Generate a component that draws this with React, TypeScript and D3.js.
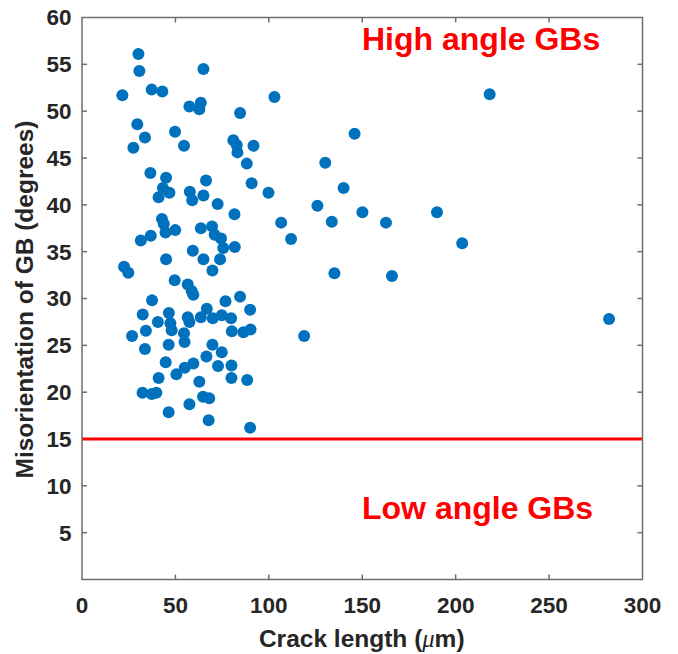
import React from "react";
import * as d3 from "d3";

const crackLength: number[] = [
  30.2, 30.7, 21.6, 37.3, 43.0, 65.0, 57.5, 63.6, 62.8, 84.6,
  29.6, 33.7, 27.5, 49.8, 54.6, 81.0, 82.8, 83.2, 91.8, 88.2,
  36.6, 45.0, 43.3, 46.8, 41.0, 66.4, 57.7, 59.0, 65.0, 72.6,
  81.6, 103.0, 90.8, 99.8, 145.9, 130.2, 140.0, 126.0, 150.1, 190.0,
  106.6, 133.7, 162.7, 111.9, 81.8, 203.5, 135.1, 165.9, 84.6, 90.0,
  79.8, 80.2, 86.4, 90.2, 118.9, 80.0, 80.0, 88.4, 90.0, 282.1,
  218.2, 22.5, 24.8, 31.5, 36.8, 42.8, 43.8, 44.7, 49.9, 45.0,
  49.6, 59.3, 63.6, 69.6, 71.0, 74.4, 75.6, 65.0, 73.9, 69.8,
  56.6, 58.7, 59.6, 37.5, 32.5, 40.6, 46.5, 47.3, 48.0, 34.2,
  26.8, 33.7, 46.4, 56.6, 57.5, 54.6, 54.9, 63.6, 66.8, 70.0,
  74.8, 76.8, 44.8, 69.8, 74.8, 66.6, 59.6, 55.0, 50.5, 72.8,
  41.0, 62.8, 32.4, 37.3, 39.8, 64.8, 68.1, 57.5, 46.4, 67.8,
];

const misorientation: number[] = [
  56.1, 54.3, 51.7, 52.3, 52.1, 54.5, 50.5, 50.9, 50.2, 49.8,
  48.6, 47.2, 46.1, 47.8, 46.3, 46.9, 46.4, 45.6, 46.3, 44.4,
  43.4, 42.9, 41.8, 41.3, 40.8, 42.6, 41.4, 40.5, 41.0, 40.1,
  39.0, 51.5, 42.3, 41.3, 47.6, 44.5, 41.8, 39.9, 39.2, 39.2,
  38.1, 38.2, 38.1, 36.35, 35.5, 35.9, 32.7, 32.4, 30.2, 28.8,
  27.9, 26.5, 26.4, 26.7, 26.0, 22.85, 21.5, 21.3, 16.2, 27.8,
  51.8, 33.4, 32.75, 36.2, 36.7, 38.5, 37.95, 37.05, 37.3, 34.2,
  31.95, 35.1, 37.5, 37.7, 36.8, 36.4, 35.4, 34.2, 34.2, 33.0,
  31.5, 30.8, 30.4, 29.8, 28.3, 27.5, 28.45, 27.35, 26.6, 26.55,
  26.0, 24.6, 25.05, 28.0, 27.5, 26.3, 25.35, 28.0, 28.9, 27.9,
  28.2, 29.7, 23.2, 25.05, 24.25, 23.8, 23.05, 22.6, 21.9, 22.8,
  21.5, 21.1, 19.95, 19.8, 19.95, 19.5, 19.35, 18.7, 17.85, 17.0,
];

const xTicks: number[] = [0, 50, 100, 150, 200, 250, 300];
const yTicks: number[] = [5, 10, 15, 20, 25, 30, 35, 40, 45, 50, 55, 60];
const threshold = 15;
const xLabel = "Crack length (";
const yLabel = "Misorientation of GB (degrees)";
const highLabel = "High angle GBs";
const lowLabel = "Low angle GBs";

export default function App() {
  const W = 678;
  const H = 654;
  const left = 82;
  const right = 642.5;
  const top = 17.5;
  const bottom = 579.5;
  const x = d3.scaleLinear().domain([0, 300]).range([left, right]);
  const y = d3.scaleLinear().domain([0, 60]).range([bottom, top]);
  const axisColor = "#6e6e6e";
  const textColor = "#262626";
  const font = "'Liberation Sans', Arial, Helvetica, sans-serif";
  const tickLen = 5;
  const points = crackLength.map((c, i) => [c, misorientation[i]]);

  return (
    <svg
      width={W}
      height={H}
      style={{ position: "absolute", left: 0, top: 0, background: "#fff" }}
      fontFamily={font}
    >
      <rect x={0} y={0} width={W} height={H} fill="#fff" />
      {xTicks.slice(1, -1).map((t) => (
        <g key={"xt" + t}>
          <line x1={x(t)} x2={x(t)} y1={bottom} y2={bottom - tickLen} stroke={axisColor} strokeWidth={1.5} />
          <line x1={x(t)} x2={x(t)} y1={top} y2={top + tickLen} stroke={axisColor} strokeWidth={1.5} />
        </g>
      ))}
      {yTicks.slice(0, -1).map((t) => (
        <g key={"yt" + t}>
          <line x1={left} x2={left + tickLen} y1={y(t)} y2={y(t)} stroke={axisColor} strokeWidth={1.5} />
          <line x1={right} x2={right - tickLen} y1={y(t)} y2={y(t)} stroke={axisColor} strokeWidth={1.5} />
        </g>
      ))}
      <line
        x1={x(0)}
        x2={x(300)}
        y1={y(threshold)}
        y2={y(threshold)}
        stroke="#ff0000"
        strokeWidth={3}
      />
      {points.map(([c, m], i) => (
        <circle key={i} cx={x(c)} cy={y(m)} r={6} fill="#0072bd" />
      ))}
      <rect
        x={left}
        y={top}
        width={right - left}
        height={bottom - top}
        fill="none"
        stroke={axisColor}
        strokeWidth={1.5}
      />
      {xTicks.map((t) => (
        <text
          key={"xl" + t}
          x={x(t)}
          y={613}
          textAnchor="middle"
          fontSize={22.5}
          fontWeight="bold"
          fill={textColor}
        >
          {t}
        </text>
      ))}
      {yTicks.map((t) => (
        <text
          key={"yl" + t}
          x={71.5}
          y={y(t)}
          dy="0.35em"
          textAnchor="end"
          fontSize={22.5}
          fontWeight="bold"
          fill={textColor}
        >
          {t}
        </text>
      ))}
      <text
        x={(left + right) / 2 - 0.5}
        y={647}
        textAnchor="middle"
        fontSize={24.5}
        fontWeight="bold"
        fill={textColor}
      >
        {xLabel}
        <tspan fontStyle="italic" fontFamily="'Liberation Serif', 'Times New Roman', serif" fontWeight="normal">μ</tspan>
        m)
      </text>
      <text
        transform={`translate(33, ${(117 + 482) / 2}) rotate(-90)`}
        textAnchor="middle"
        fontSize={24.5}
        fontWeight="bold"
        fill={textColor}
      >
        {yLabel}
      </text>
      <text x={362} y={50} fontSize={32} fontWeight="bold" fill="#ff0000">
        {highLabel}
      </text>
      <text x={362} y={519} fontSize={32} fontWeight="bold" fill="#ff0000">
        {lowLabel}
      </text>
    </svg>
  );
}
